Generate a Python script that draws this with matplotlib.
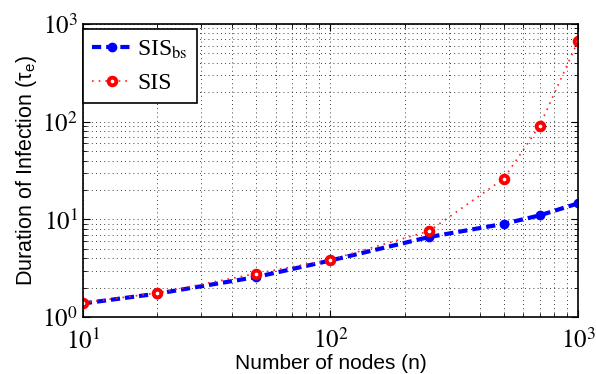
import numpy as np
import matplotlib.pyplot as plt
from matplotlib.ticker import FuncFormatter, LogLocator, NullFormatter

plt.rcParams['mathtext.fontset'] = 'stix'
plt.rcParams['font.family'] = 'Liberation Serif'

nodes = [10, 20, 50, 100, 250, 500, 700, 1000]
sis_bs = [1.38, 1.74, 2.57, 3.8, 6.6, 9.0, 11.0, 14.6]
sis = [1.40, 1.77, 2.79, 3.87, 7.6, 26.0, 91.0, 672.0]

fig = plt.figure(figsize=(5.96, 3.74), dpi=100)
ax = fig.add_axes([0.139, 0.152, 0.831, 0.784])

ax.plot(nodes, sis_bs, color='blue', linestyle=(0, (2.2, 1.2)), linewidth=3,
        marker='o', markersize=6, markerfacecolor='blue', markeredgecolor='blue',
        label=r'SIS$_{\mathrm{bs}}$')
ax.plot(nodes, sis, color='#ff2020', linestyle=(0, (1, 3)), linewidth=1.2,
        marker='o', markersize=5.5, markerfacecolor='white', markeredgecolor='red',
        markeredgewidth=2.8, label='SIS')

ax.set_xscale('log')
ax.set_yscale('log')
ax.set_xlim(10, 1000)
ax.set_ylim(1, 1000)

pow_fmt = FuncFormatter(lambda v, pos: r'$\mathrm{10}^{%d}$' % round(np.log10(v)))
for axis in (ax.xaxis, ax.yaxis):
    axis.set_major_locator(LogLocator(base=10))
    axis.set_major_formatter(pow_fmt)
    axis.set_minor_formatter(NullFormatter())

ax.grid(True, which='both', color='black', linestyle=(0, (1, 4)), linewidth=0.6)
ax.tick_params(which='both', direction='in', top=True, right=True)
ax.tick_params(which='major', length=5, labelsize=18)
ax.tick_params(axis='x', which='major', pad=8)
ax.tick_params(which='minor', length=3)
for s in ax.spines.values():
    s.set_linewidth(1.2)

ax.set_xlabel('Number of nodes (n)', fontsize=15, family='Liberation Sans', labelpad=0)
ax.set_ylabel(r'Duration of Infection ($\mathregular{\tau_e}$)', fontsize=15.5,
              family='Liberation Sans', labelpad=2)

leg = ax.legend(loc='upper left', bbox_to_anchor=(0, 1 - 5 / 293),
                prop={'family': 'Liberation Serif', 'size': 17},
                fancybox=False, framealpha=1, edgecolor='black', borderaxespad=0,
                handlelength=1.7, borderpad=0.4, labelspacing=0.5, handletextpad=0.2)
leg.get_frame().set_linewidth(1.2)

fig.savefig('out.png', dpi=100)
